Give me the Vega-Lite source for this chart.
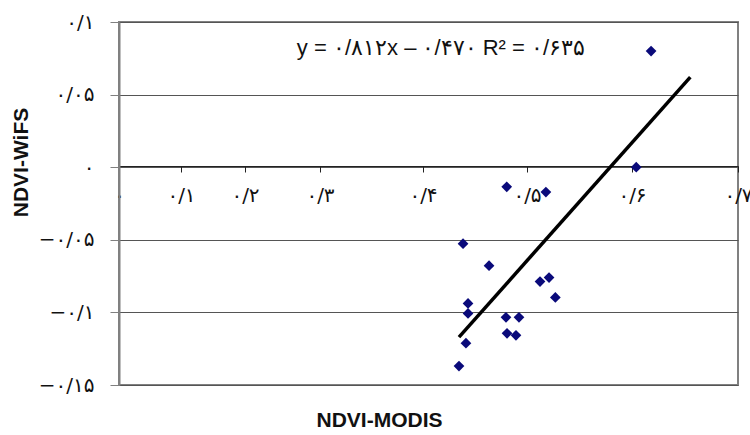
{
  "$schema": "https://vega.github.io/schema/vega-lite/v6.json",
  "width": 619,
  "height": 363,
  "autosize": {"type": "none"},
  "padding": {"left": 119, "top": 22, "right": 12, "bottom": 50},
  "background": "white",
  "config": {
    "view": {"stroke": "#808080", "strokeWidth": 2},
    "font": "Liberation Sans"
  },
  "encoding": {
    "x": {
      "field": "x", "type": "quantitative",
      "scale": {"domain": [0, 0.1, 0.2, 0.3, 0.4, 0.5, 0.6, 0.7], "range": [0, 62, 126, 201, 304, 408, 513, 619], "nice": false, "zero": false},
      "axis": {
        "title": "NDVI-MODIS",
        "titleFont": "Liberation Sans", "titleFontSize": 21, "titleFontWeight": "bold", "titleColor": "#111",
        "titleX": 260, "titleY": 254, "titleBaseline": "middle", "titleAlign": "center",
        "offset": -219,
        "values": [0, 0.1, 0.2, 0.3, 0.4, 0.5, 0.6, 0.7],
        "labelExpr": "datum.value == 0 ? '۰' : datum.value == 0.1 ? '۰/۱' : datum.value == 0.2 ? '۰/۲' : datum.value == 0.3 ? '۰/۳' : datum.value == 0.4 ? '۰/۴' : datum.value == 0.5 ? '۰/۵' : datum.value == 0.6 ? '۰/۶' : '۰/۷'",
        "labelFont": "DejaVu Sans", "labelFontSize": 20, "labelColor": "#111", "labelFlush": false, "labelOverlap": false,
        "labelPadding": 13, "labelBaseline": "top",
        "tickSize": 6, "tickColor": "#222", "domainColor": "#222", "grid": false
      }
    },
    "y": {
      "field": "y", "type": "quantitative",
      "scale": {"domain": [-0.15, 0.1], "nice": false, "zero": false},
      "axis": {
        "title": "NDVI-WiFS",
        "titleFont": "Liberation Sans", "titleFontSize": 21, "titleFontWeight": "bold", "titleColor": "#111",
        "titleX": -98, "titleY": 140, "titleBaseline": "middle", "titleAlign": "center", "titleAngle": -90,
        "values": [-0.15, -0.1, -0.05, 0, 0.05, 0.1],
        "labelExpr": "datum.value == 0.1 ? '۰/۱' : datum.value == 0.05 ? '۰/۰۵' : datum.value == 0 ? '۰' : datum.value == -0.05 ? '−۰/۰۵' : datum.value == -0.1 ? '−۰/۱' : '−۰/۱۵'",
        "labelFont": "DejaVu Sans", "labelFontSize": 20, "labelColor": "#111", "labelPadding": 16,
        "tickSize": 9, "tickColor": "#808080", "domainColor": "#808080", "domainWidth": 2,
        "grid": true, "gridColor": "#555", "gridWidth": 1
      }
    }
  },
  "layer": [
    {
      "data": {"values": [
        {"x": 0.618, "y": 0.080},
        {"x": 0.604, "y": 0.0},
        {"x": 0.4805, "y": -0.0135},
        {"x": 0.518, "y": -0.0171},
        {"x": 0.4385, "y": -0.0527},
        {"x": 0.4635, "y": -0.0678},
        {"x": 0.5124, "y": -0.0788},
        {"x": 0.521, "y": -0.076},
        {"x": 0.527, "y": -0.0897},
        {"x": 0.4433, "y": -0.0938},
        {"x": 0.4433, "y": -0.1007},
        {"x": 0.4798, "y": -0.1034},
        {"x": 0.4923, "y": -0.1034},
        {"x": 0.4808, "y": -0.1144},
        {"x": 0.4894, "y": -0.1158},
        {"x": 0.4413, "y": -0.1212},
        {"x": 0.4346, "y": -0.137}
      ]},
      "mark": {"type": "point", "shape": "diamond", "filled": true, "color": "#0a0a7a", "size": 115, "opacity": 1}
    },
    {
      "data": {"values": [
        {"x": 0.4346, "y": -0.117},
        {"x": 0.655, "y": 0.062}
      ]},
      "mark": {"type": "line", "color": "#000", "strokeWidth": 3.5}
    },
    {
      "data": {"values": [
        {"x": 0.4173, "y": 0.0822, "label": "y = ۰/۸۱۲x – ۰/۴۷۰   R² = ۰/۶۳۵"}
      ]},
      "mark": {"type": "text", "align": "center", "baseline": "middle", "fontSize": 22, "font": "Liberation Sans", "color": "#111"},
      "encoding": {"text": {"field": "label"}}
    }
  ]
}
